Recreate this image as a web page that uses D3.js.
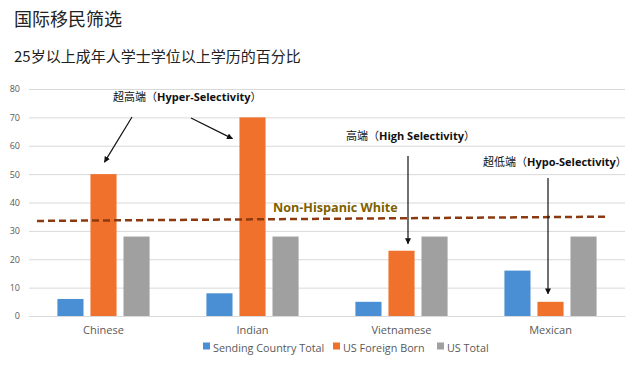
<!DOCTYPE html>
<html><head><meta charset="utf-8">
<script src="https://cdn.jsdelivr.net/npm/d3@7"></script>
<style>
html,body{margin:0;padding:0;background:#fff;}
svg{display:block;}
</style></head>
<body>
<svg id="chart" width="640" height="367"></svg>
<script>
const categories = ["Chinese", "Indian", "Vietnamese", "Mexican"];
const seriesNames = ["Sending Country Total", "US Foreign Born", "US Total"];
const sendingCountry = [6, 8, 5, 16];
const usForeignBorn = [50, 70, 23, 5];
const usTotal = [28, 28, 28, 28];
const yTicks = [0, 10, 20, 30, 40, 50, 60, 70, 80];
const whiteLine = [33.5, 35];  // start / end value of dashed trend line
const colors = ["#4A8FD3", "#F0712C", "#A0A0A0"];

const title = "国际移民筛选";
const subtitle = "25岁以上成年人学士学位以上学历的百分比";
const annotations = [
  {cn: "超高端", en: "Hyper-Selectivity"},
  {cn: "高端", en: "High Selectivity"},
  {cn: "超低端", en: "Hypo-Selectivity"}
];

const svg = d3.select("#chart");
const W = 640, H = 367;
const m = {left: 29, right: 15, top: 89, bottom: 51};
const x0 = d3.scaleBand().domain(categories).range([m.left, W - m.right]).paddingInner(0).paddingOuter(0);
const y = d3.scaleLinear().domain([0, 80]).range([H - m.bottom, m.top]);
const x1 = d3.scaleBand().domain(seriesNames).range([0, x0.bandwidth()]).paddingInner(0.21).paddingOuter(0.86);

const font = "'Open Sans','Noto Sans','DejaVu Sans',sans-serif";
const cjk = "'Noto Sans CJK SC','Noto Sans',sans-serif";

// Title
svg.append("text").attr("x", 14).attr("y", 26).attr("font-family", cjk).attr("font-size", 18)
  .attr("fill", "#222").text(title);
svg.append("text").attr("x", 14).attr("y", 62).attr("font-family", cjk).attr("font-size", 15)
  .attr("fill", "#222").text(subtitle);

// Grid
const gridG = svg.append("g").attr("transform", `translate(${m.left},0)`)
  .call(d3.axisLeft(y).tickValues(yTicks).tickSize(-(W - m.left - m.right)).tickFormat(d3.format("d")));
gridG.select(".domain").remove();
gridG.selectAll(".tick line").attr("stroke", "#D9D9D9").attr("stroke-width", 1);
gridG.selectAll(".tick text").attr("x", -9).attr("font-family", font).attr("font-size", 9).attr("fill", "#595959");

// Bars
const data = categories.map((c, i) => ({cat: c, vals: [sendingCountry[i], usForeignBorn[i], usTotal[i]]}));
const groups = svg.append("g").selectAll("g").data(data).join("g")
  .attr("transform", d => `translate(${x0(d.cat)},0)`);
groups.selectAll("rect").data(d => d.vals.map((v, j) => ({s: seriesNames[j], v, j}))).join("rect")
  .attr("x", d => x1(d.s)).attr("width", x1.bandwidth())
  .attr("y", d => y(d.v)).attr("height", d => y(0) - y(d.v))
  .attr("fill", d => colors[d.j]);

// X axis labels
const xa = svg.append("g").attr("transform", `translate(0,${y(0)})`)
  .call(d3.axisBottom(x0).tickSize(0).tickPadding(10));
xa.select(".domain").attr("stroke", "#D9D9D9");
xa.selectAll(".tick text").attr("font-family", font).attr("font-size", 11).attr("fill", "#595959");

// Dashed line
svg.append("line")
  .attr("x1", m.left + 8).attr("x2", W - m.right - 17)
  .attr("y1", y(whiteLine[0])).attr("y2", y(whiteLine[1]))
  .attr("stroke", "#8B3A10").attr("stroke-width", 2.5).attr("stroke-dasharray", "7,4");
svg.append("text").attr("x", 273).attr("y", 212).attr("font-family", font).attr("font-weight", "bold")
  .attr("font-size", 12.6).attr("fill", "#7F6000").text("Non-Hispanic White");

// Arrow marker
const defs = svg.append("defs");
defs.append("marker").attr("id", "arr").attr("viewBox", "0 0 10 10").attr("refX", 9).attr("refY", 5)
  .attr("markerWidth", 5).attr("markerHeight", 5).attr("orient", "auto")
  .append("path").attr("d", "M0,0 L10,5 L0,10 z").attr("fill", "#111");

function annot(a, xLeft, yBase) {
  const t = svg.append("text").attr("x", xLeft).attr("y", yBase).attr("font-size", 11).attr("fill", "#111");
  t.append("tspan").attr("font-family", cjk).text(a.cn + "（");
  t.append("tspan").attr("font-family", font).attr("font-weight", "bold").text(a.en);
  t.append("tspan").attr("font-family", cjk).text("）");
}
annot(annotations[0], 113, 101);
annot(annotations[1], 346, 140);
annot(annotations[2], 483, 166);

function arrow(xa_, ya_, xb, yb) {
  svg.append("line").attr("x1", xa_).attr("y1", ya_).attr("x2", xb).attr("y2", yb)
    .attr("stroke", "#111").attr("stroke-width", 1.2).attr("marker-end", "url(#arr)");
}
// arrows point to the bars they annotate
const cx = (cat, s) => x0(cat) + x1(s) + x1.bandwidth() / 2;
const left = (cat, s) => x0(cat) + x1(s);
arrow(132, 117, cx("Chinese", seriesNames[1]) + 1, y(usForeignBorn[0]) - 12);
arrow(191, 118, left("Indian", seriesNames[1]) - 7, y(62.5));
arrow(408, 156, 408, y(usForeignBorn[2]) - 7);
arrow(548, 178, 548, y(usForeignBorn[3]) - 8);

// Legend
const legend = svg.append("g").attr("transform", "translate(0,347)");
const lx = [203, 333, 437];
seriesNames.forEach((s, i) => {
  legend.append("rect").attr("x", lx[i]).attr("y", -4.5).attr("width", 7).attr("height", 7).attr("fill", colors[i]);
  legend.append("text").attr("x", lx[i] + 10).attr("y", 4.5).attr("font-family", font).attr("font-size", 10.8)
    .attr("fill", "#595959").text(s);
});
</script>
</body></html>
